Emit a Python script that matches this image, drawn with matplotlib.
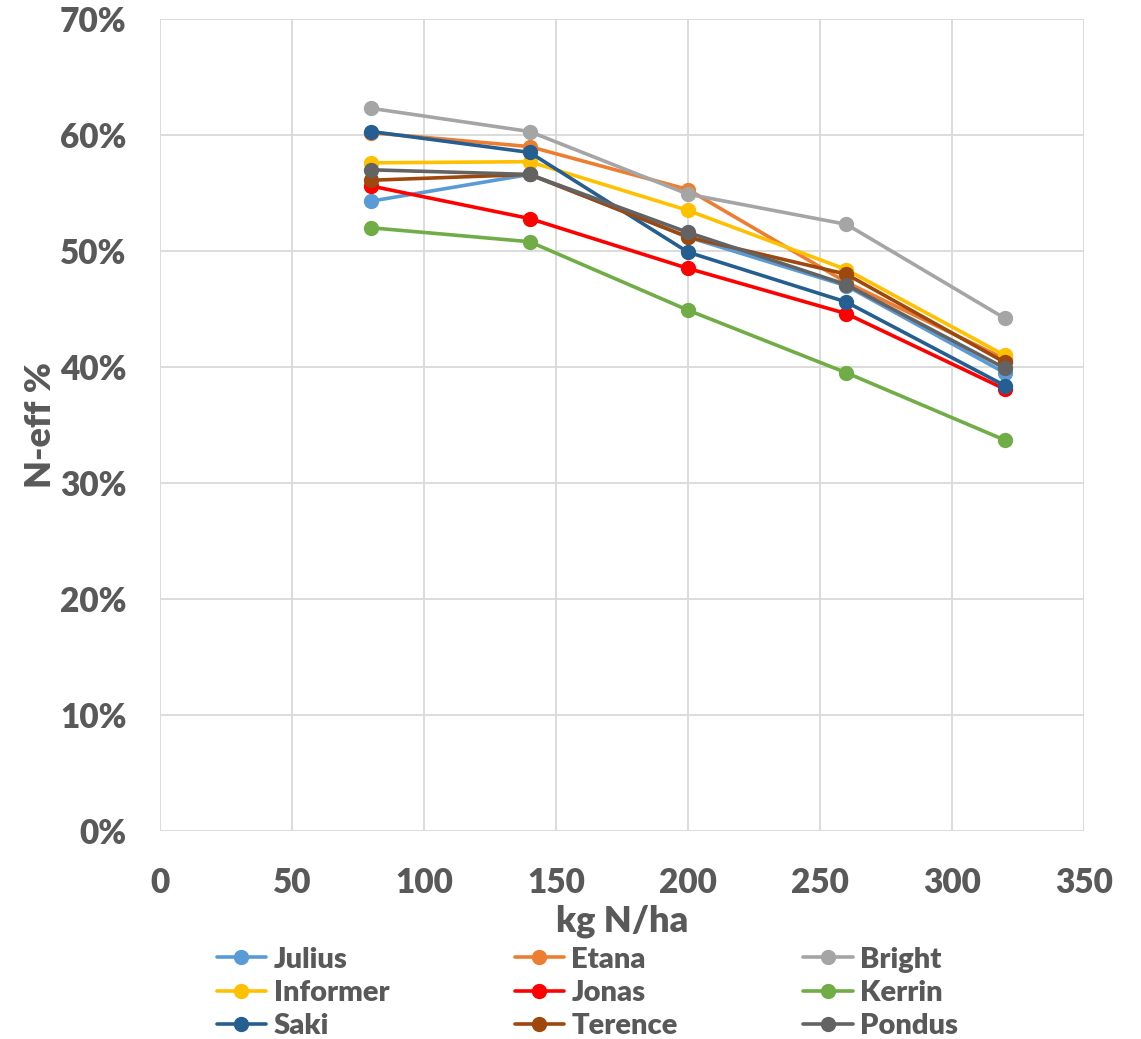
import numpy as np
import matplotlib
matplotlib.use('Agg')
import matplotlib.pyplot as plt
from matplotlib.ticker import PercentFormatter

n_rates = [80, 140, 200, 260, 320]
varieties = ['Julius', 'Etana', 'Bright', 'Informer', 'Jonas', 'Kerrin', 'Saki', 'Terence', 'Pondus']

julius   = [54.3, 56.6, 51.2, 47.0, 39.5]
etana    = [60.2, 59.0, 55.3, 47.3, 40.7]
bright   = [62.3, 60.3, 54.9, 52.3, 44.2]
informer = [57.6, 57.7, 53.5, 48.4, 41.0]
jonas    = [55.6, 52.8, 48.5, 44.6, 38.1]
kerrin   = [52.0, 50.8, 44.9, 39.5, 33.7]
saki     = [60.3, 58.5, 49.9, 45.6, 38.4]
terence  = [56.1, 56.6, 51.2, 48.0, 40.4]
pondus   = [57.0, 56.6, 51.6, 47.1, 39.9]

series = [julius, etana, bright, informer, jonas, kerrin, saki, terence, pondus]
colors = ['#5B9BD5', '#ED7D31', '#A5A5A5', '#FFC000', '#FF0000',
          '#70AD47', '#255E91', '#9E480E', '#636363']

text_color = '#595959'
plt.rcParams['font.family'] = ['Lato', 'DejaVu Sans']
plt.rcParams['font.weight'] = 'bold'

fig = plt.figure(figsize=(11.41, 10.39), dpi=100)
ax = fig.add_axes([160 / 1141, 1 - 831 / 1039, 924 / 1141, 812 / 1039])

handles = []
for name, vals, c in zip(varieties, series, colors):
    h, = ax.plot(n_rates, vals, color=c, linewidth=2.6, marker='o', markersize=10,
                 label=name, solid_capstyle='round')
    handles.append(h)

ax.set_xlim(0, 350)
ax.set_ylim(0, 70)
ax.set_xticks(np.arange(0, 351, 50))
ax.set_yticks(np.arange(0, 71, 10))
ax.yaxis.set_major_formatter(PercentFormatter(decimals=0))
ax.grid(True, color='#D9D9D9', linewidth=1.3)
ax.set_axisbelow(True)
for s in ax.spines.values():
    s.set_visible(False)
ax.tick_params(length=0, labelsize=24, labelcolor=text_color)
ax.tick_params(axis='x', pad=26)
ax.tick_params(axis='y', pad=24)
for lab in ax.get_xticklabels() + ax.get_yticklabels():
    lab.set_fontweight('heavy')

ax.set_xlabel('kg N/ha', fontsize=26, fontweight='heavy', color=text_color, labelpad=4)
ax.set_ylabel('N-eff %', fontsize=26, fontweight='heavy', color=text_color, labelpad=2)

# legend laid out row by row, three columns
order = [0, 3, 6, 1, 4, 7, 2, 5, 8]
leg = fig.legend([handles[i] for i in order], [varieties[i] for i in order],
                 loc='upper left', bbox_to_anchor=(205 / 1141, 1 - 935 / 1039), ncol=3,
                 frameon=False, fontsize=21, handlelength=1.7, columnspacing=4.3,
                 labelspacing=0.25, handletextpad=0.25, borderaxespad=0)
for t in leg.get_texts():
    t.set_color(text_color)
    t.set_fontweight('heavy')

fig.savefig('out.png', dpi=100)
